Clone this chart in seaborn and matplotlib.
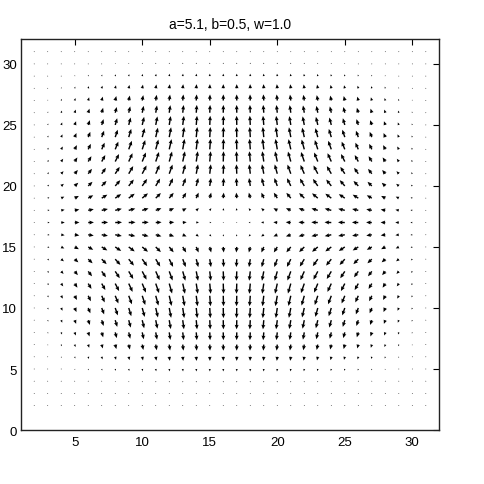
import numpy as np
import pandas as pd
import seaborn as sns
import matplotlib
matplotlib.use("Agg")
import matplotlib.pyplot as plt

# grid positions (data)
x_pos = list(range(2, 32))
y_pos = list(range(2, 32))

# horizontal-component profile across columns (x = 2..31), arrow length units
u_col = [0.04, 0.14, 0.26, 0.35, 0.42, 0.47, 0.5, 0.5, 0.48, 0.43, 0.37, 0.29, 0.2, 0.12, 0.04,
         -0.04, -0.12, -0.2, -0.29, -0.37, -0.43, -0.48, -0.5, -0.5, -0.47, -0.42, -0.35, -0.26, -0.14, -0.04]
# horizontal-component profile across rows (y = 2..31)
u_row = [0.01, 0.02, 0.04, 0.08, 0.12, 0.17, 0.23, 0.3, 0.38, 0.47, 0.57, 0.67, 0.77, 0.88, 0.97,
         1.0, 0.97, 0.88, 0.75, 0.66, 0.56, 0.46, 0.37, 0.29, 0.22, 0.16, 0.11, 0.07, 0.03, 0.01]
# vertical-component profile across columns (x = 2..31)
v_col = [0.05, 0.15, 0.27, 0.4, 0.52, 0.63, 0.73, 0.81, 0.88, 0.93, 0.97, 0.99, 1.0, 1.0, 1.0,
         1.0, 1.0, 1.0, 0.99, 0.97, 0.93, 0.88, 0.81, 0.73, 0.63, 0.52, 0.4, 0.27, 0.15, 0.05]
# vertical-component profile across rows (y = 2..31), arrow length units
v_row = [-0.01, -0.04, -0.1, -0.2, -0.34, -0.5, -0.64, -0.75, -0.83, -0.86, -0.84, -0.77, -0.65, -0.45, -0.14,
         0.03, 0.18, 0.45, 0.65, 0.77, 0.84, 0.86, 0.83, 0.75, 0.64, 0.5, 0.34, 0.2, 0.1, 0.04]

title_text = "a=5.1, b=0.5, w=1.0"
x_ticks = [5, 10, 15, 20, 25, 30]
y_ticks = [0, 5, 10, 15, 20, 25, 30]

X, Y = np.meshgrid(x_pos, y_pos)
U = np.outer(u_row, u_col)
V = np.outer(v_row, v_col)
df = pd.DataFrame({"x": X.ravel(), "y": Y.ravel(), "u": U.ravel(), "v": V.ravel()})

sns.set_theme(style="white")
plt.rcParams["font.family"] = ["Liberation Sans", "DejaVu Sans"]

fig = plt.figure(figsize=(4.85, 4.85), dpi=100)
ax = fig.add_axes([0.0427, 0.1113, 0.8631, 0.8052])
ax.quiver(df["x"], df["y"], df["u"], df["v"], angles="xy", scale_units="xy", scale=1,
          color="black", width=0.0034, headwidth=2.8, headlength=3.2, headaxislength=2.9,
          minlength=0.6, minshaft=1)
ax.set_xlim(1, 32)
ax.set_ylim(0, 32)
ax.set_xticks(x_ticks)
ax.set_yticks(y_ticks)
ax.tick_params(direction="in", length=4, width=0.8, top=True, right=True,
               labelsize=9.5, colors="black", pad=2.5)
ax.tick_params(axis="x", pad=4)
for s in ax.spines.values():
    s.set_color("#222222")
    s.set_linewidth(1.0)
ax.set_title(title_text, fontsize=10, pad=8, color="black")
fig.savefig("out.png", dpi=100, facecolor="white")
